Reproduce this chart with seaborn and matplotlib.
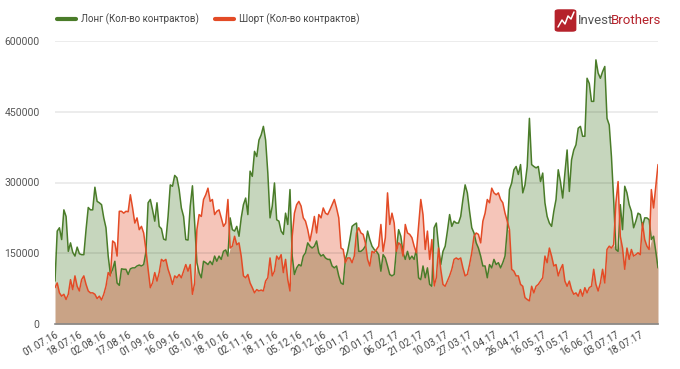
import numpy as np
import pandas as pd
import matplotlib
matplotlib.use("Agg")
import matplotlib.pyplot as plt
import seaborn as sns
from matplotlib.lines import Line2D
from matplotlib.patches import FancyBboxPatch

# ---- data (thousands of contracts, one value per trading day) ----
long_k = [
    91, 197, 204, 179, 242, 228, 154, 172, 152, 144, 163, 149, 147, 147, 200, 247, 242, 242, 290, 260,
    257, 253, 225, 204, 144, 105, 116, 133, 87, 82, 117, 116, 116, 105, 117, 119, 119, 123, 125, 123,
    126, 152, 257, 264, 242, 218, 257, 207, 202, 180, 178, 228, 295, 292, 315, 310, 285, 246, 228, 179,
    178, 250, 293, 214, 130, 109, 98, 133, 130, 126, 133,
    126, 144, 133, 144, 137, 154, 157, 144, 225, 200, 197, 207, 186, 225, 253, 267, 232, 324, 313,
    366, 355, 390, 401, 419, 390, 320, 225, 250, 299, 221, 218, 197, 190, 235, 211, 285, 144, 105, 119,
    126, 123, 144, 151, 172, 165, 161, 165, 176, 151, 144, 147, 140, 137, 137, 123, 119, 123, 102, 87,
    84, 137, 154, 179, 207, 211, 214, 154,
    154, 158, 165, 197, 179, 165, 158, 154, 147, 112, 147, 140, 123, 105, 102, 105, 158, 200, 186, 151,
    137, 154, 137, 144, 137, 158, 98, 94, 123, 98, 119, 84, 80, 204, 214, 165, 126, 154, 165, 197,
    232, 207, 218, 214, 214, 228, 264, 295, 278, 239, 204, 193, 172, 161, 144, 123, 123, 98, 126, 119,
    137, 126, 130, 119, 130, 144, 200, 285,
    299, 327, 334, 317, 338, 278, 295, 334, 436, 338, 334, 331, 334, 302, 320, 257, 228, 214, 207, 239,
    264, 327, 302, 267, 320, 369, 281, 348, 369, 380, 415, 419, 398, 398, 521, 510, 472, 472, 560, 532,
    521, 535, 546, 436, 422, 355, 264, 158, 154, 253, 200, 292, 278, 253, 239, 204, 218, 235, 232, 207,
    225, 225, 221, 179, 186, 154, 119,
]
short_k = [
    77, 87, 66, 59, 63, 52, 63, 94, 73, 102, 80, 70, 94, 102, 84, 70, 66, 66, 63, 54,
    59, 51, 63, 80, 109, 102, 176, 172, 144, 239, 239, 235, 239, 238, 274, 246, 214, 225, 200, 207,
    193, 158, 116, 77, 87, 109, 91, 109, 137, 133, 137, 116, 102, 84, 102, 98, 105, 98, 112, 126,
    112, 126, 63, 87, 200, 232, 228, 264, 274, 288, 260,
    264, 232, 239, 242, 225, 207, 214, 264, 161, 165, 186, 168, 172, 144, 102, 98, 105, 87, 77,
    66, 73, 70, 72, 70, 91, 98, 140, 102, 112, 144, 137, 147, 109, 137, 94, 70, 186, 235, 253,
    260, 250, 225, 218, 200, 176, 200, 228, 193, 232, 225, 246, 235, 232, 242, 253, 264, 246, 225, 161,
    158, 130, 140, 140, 130, 144, 193, 204,
    193, 190, 172, 137, 123, 154, 151, 158, 165, 211, 154, 183, 278, 211, 235, 214, 154, 172, 168, 144,
    211, 193, 190, 183, 165, 151, 207, 264, 232, 158, 197, 137, 179, 80, 98, 161, 116, 84, 80, 91,
    102, 116, 137, 140, 137, 140, 119, 102, 105, 126, 151, 186, 193, 190, 172, 218, 235, 264, 257, 288,
    278, 274, 278, 264, 257, 235, 218, 200,
    116, 112, 102, 102, 84, 80, 56, 52, 49, 80, 66, 80, 84, 91, 98, 144, 130, 161, 144, 123,
    126, 102, 116, 126, 91, 80, 91, 73, 63, 66, 59, 73, 59, 77, 66, 77, 80, 116, 84, 70,
    87, 116, 87, 158, 165, 161, 168, 257, 302, 186, 161, 116, 161, 137, 158, 144, 147, 151, 147, 214,
    179, 165, 158, 285, 246, 292, 338,
]
tick_labels = ["01.07.16", "18.07.16", "02.08.16", "17.08.16", "01.09.16", "16.09.16", "03.10.16",
               "18.10.16", "02.11.16", "18.11.16", "05.12.16", "20.12.16", "05.01.17", "20.01.17",
               "06.02.17", "21.02.17", "10.03.17", "27.03.17", "11.04.17", "26.04.17", "16.05.17",
               "31.05.17", "16.06.17", "03.07.17", "18.07.17"]
tick_step = 11
long_name = "Лонг (Кол-во контрактов)"
short_name = "Шорт (Кол-во контрактов)"

n = min(len(long_k), len(short_k))
df = pd.DataFrame({
    "idx": np.arange(n),
    "long": np.array(long_k[:n]) * 1000,
    "short": np.array(short_k[:n]) * 1000,
})

sns.set_theme(style="white")
plt.rcParams["font.family"] = ["Roboto", "DejaVu Sans"]

GREEN_LINE = "#4a7c29"
RED_LINE = "#e34b26"
GREEN_FILL = "#c6d6bd"
RED_FILL = "#f5c5b9"
BOTH_FILL = "#c9a386"

fig = plt.figure(figsize=(6.8, 3.69), dpi=100)
ax = fig.add_axes([55 / 680, 1 - 324 / 369, 603 / 680, 283 / 369])

x = df["idx"].values
lo = np.minimum(df["long"].values, df["short"].values)
ax.fill_between(x, 0, lo, color=BOTH_FILL, lw=0, zorder=1)
ax.fill_between(x, df["short"], df["long"], where=df["long"] >= df["short"],
                interpolate=True, color=GREEN_FILL, lw=0, zorder=1)
ax.fill_between(x, df["long"], df["short"], where=df["short"] >= df["long"],
                interpolate=True, color=RED_FILL, lw=0, zorder=1)

sns.lineplot(data=df, x="idx", y="long", ax=ax, color=GREEN_LINE, lw=1.1, zorder=3)
sns.lineplot(data=df, x="idx", y="short", ax=ax, color=RED_LINE, lw=1.1, zorder=3)

ax.set_xlim(0, n - 1)
ax.set_ylim(0, 600000)
ax.set_yticks([0, 150000, 300000, 450000, 600000])
ax.set_yticklabels(["0", "150000", "300000", "450000", "600000"])
ax.set_xticks(np.arange(len(tick_labels)) * tick_step)
ax.set_xticklabels(tick_labels, rotation=30, ha="right", rotation_mode="anchor")
ax.set_xlabel("")
ax.set_ylabel("")

for yv in [150000, 300000, 450000, 600000]:
    ax.axhline(yv, color="#000000", alpha=0.09, lw=1.2, zorder=2)

ax.tick_params(axis="y", length=5, width=1, color="#e6e6e6", pad=6, labelsize=7.5, labelcolor="#555555")
ax.tick_params(axis="x", length=0, pad=4, labelsize=7.2, labelcolor="#444444")
for s in ["top", "right", "left"]:
    ax.spines[s].set_visible(False)
ax.spines["bottom"].set_color("#888888")
ax.spines["bottom"].set_linewidth(1.2)
ax.spines["bottom"].set_zorder(4)

handles = [Line2D([0], [0], color=GREEN_LINE, lw=3), Line2D([0], [0], color=RED_LINE, lw=3)]
fig.legend(handles, [long_name, short_name], loc="center left", bbox_to_anchor=(48 / 680, 1 - 19 / 369),
           ncol=2, frameon=False, fontsize=7.0, handlelength=2.0, handletextpad=0.5, columnspacing=1.6,
           labelcolor="#444444")

# logo
logo = FancyBboxPatch((556 / 680, 1 - 31 / 369), 19 / 680, 21 / 369,
                      boxstyle="round,pad=0.002,rounding_size=0.006", transform=fig.transFigure,
                      facecolor="#b5222b", edgecolor="none")
fig.patches.append(logo)
zx = np.array([558, 562, 565, 568, 571, 574]) / 680
zy = 1 - np.array([27, 20, 24, 16, 19, 12]) / 369
fig.lines.append(Line2D(zx, zy, transform=fig.transFigure, color="white", lw=1.1))
t1 = fig.text(578 / 680, 1 - 20 / 369, "Invest", fontsize=9.5, color="#555555", va="center", ha="left",
              family=["Roboto", "DejaVu Sans"])
fig.canvas.draw()
bb = t1.get_window_extent()
fig.text((bb.x1 - 3) / fig.bbox.width, 1 - 20 / 369, "Brothers", fontsize=9.5, color="#b5222b", va="center",
         ha="left", family=["Roboto", "DejaVu Sans"])

fig.savefig("out.png", dpi=100)
